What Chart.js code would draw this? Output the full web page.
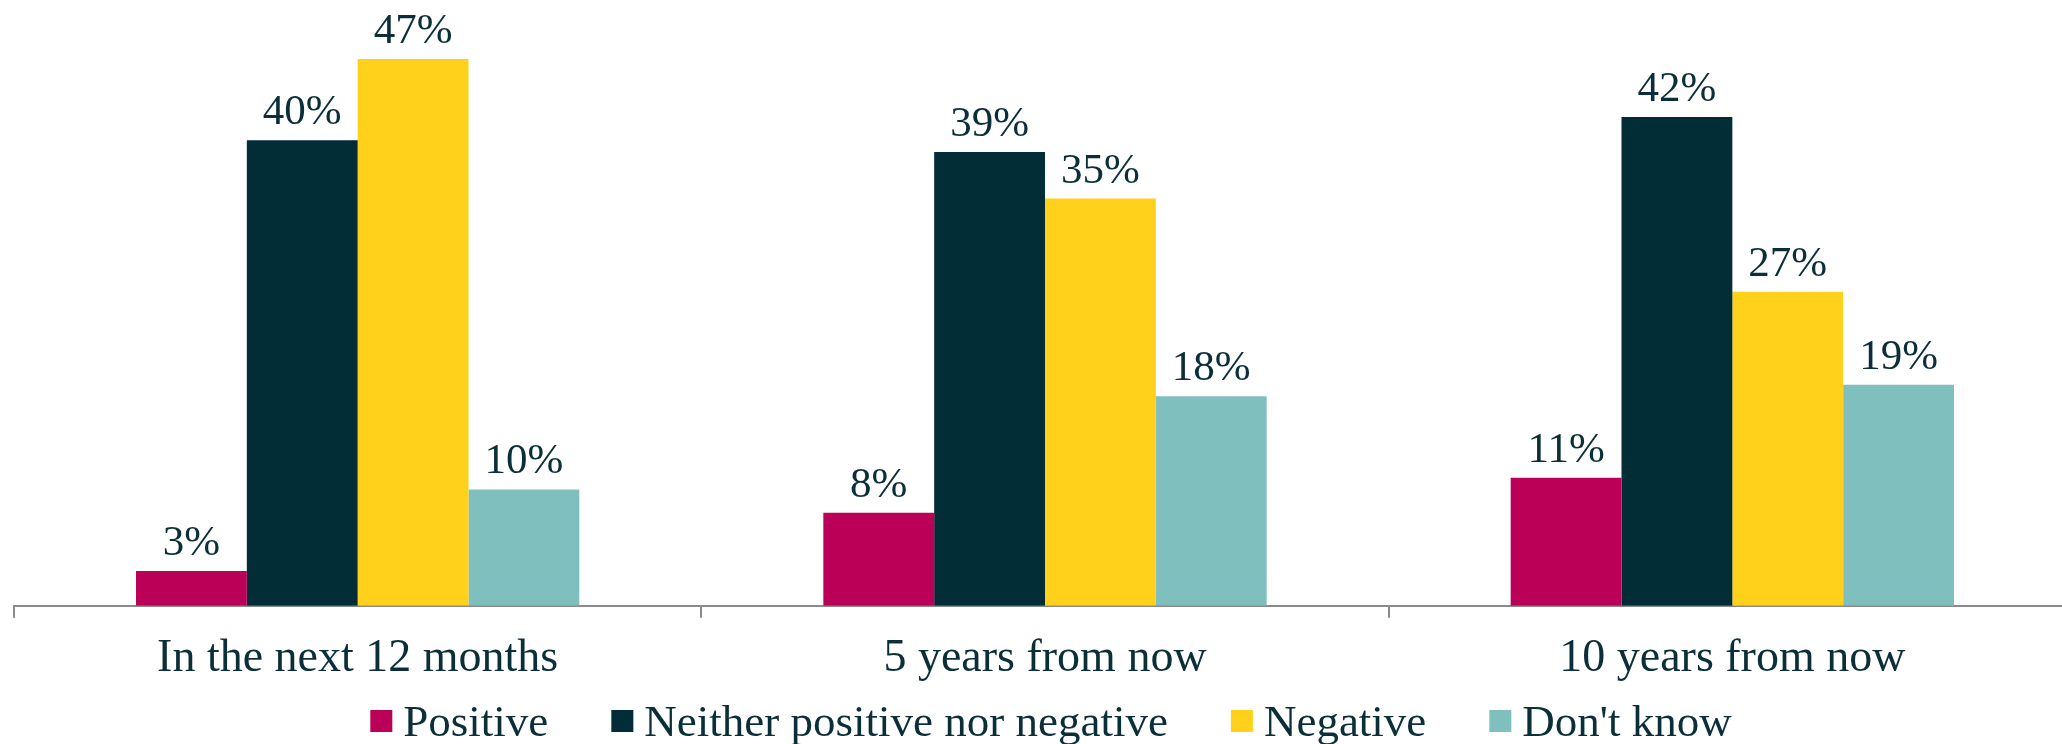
<!DOCTYPE html>
<html>
<head>
<meta charset="utf-8">
<script src="https://cdn.jsdelivr.net/npm/chart.js@4.4.1/dist/chart.umd.min.js"></script>
<style>
  html, body { margin: 0; padding: 0; background: #ffffff; overflow: hidden; }
  #wrap { position: relative; width: 2080px; height: 744px; }
</style>
</head>
<body>
<div id="wrap"><canvas id="c"></canvas></div>
<script>
// Outlook by time horizon (% of respondents)
const categories = ['In the next 12 months', '5 years from now', '10 years from now'];
const seriesNames = ['Positive', 'Neither positive nor negative', 'Negative', "Don't know"];
const positive = [3, 8, 11];
const neither = [40, 39, 42];
const negative = [47, 35, 27];
const dontKnow = [10, 18, 19];

const seriesValues = [positive, neither, negative, dontKnow];
const seriesColors = ['#ba0057', '#022c36', '#ffd11a', '#7fbfbe'];
const textColor = '#0b2f39';
const axisColor = '#8a8a8a';
const serif = "'Liberation Serif', 'DejaVu Serif', serif";

// Writes each bar's value above it
const valueLabels = {
  id: 'valueLabels',
  afterDatasetsDraw(chart) {
    const ctx = chart.ctx;
    ctx.save();
    ctx.font = `43px ${serif}`;
    ctx.fillStyle = textColor;
    ctx.textAlign = 'center';
    ctx.textBaseline = 'alphabetic';
    chart.data.datasets.forEach((ds, di) => {
      const meta = chart.getDatasetMeta(di);
      meta.data.forEach((bar, i) => {
        ctx.fillText(ds.data[i] + '%', bar.x, bar.y - 16);
      });
    });
    ctx.restore();
  }
};

// Single-row legend under the axis: small square swatch, tight gap, wide spacing
const legendRow = {
  id: 'legendRow',
  afterDraw(chart) {
    const ctx = chart.ctx;
    const box = 22, gap = 11, spacing = 63;
    ctx.save();
    ctx.font = `45px ${serif}`;
    const items = chart.data.datasets.map(ds => ({
      text: ds.label,
      color: ds.backgroundColor,
      w: ctx.measureText(ds.label).width
    }));
    const total = items.reduce((s, it) => s + box + gap + it.w, 0) + spacing * (items.length - 1);
    let x = (chart.chartArea.left + chart.chartArea.right) / 2 + 6 - total / 2;
    const cy = chart.height - 23;
    ctx.textAlign = 'left';
    ctx.textBaseline = 'alphabetic';
    items.forEach(it => {
      ctx.fillStyle = it.color;
      ctx.fillRect(x, cy - box / 2, box, box);
      ctx.fillStyle = textColor;
      ctx.fillText(it.text, x + box + gap, cy + 15);
      x += box + gap + it.w + spacing;
    });
    ctx.restore();
  }
};

new Chart(document.getElementById('c'), {
  type: 'bar',
  data: {
    labels: categories,
    datasets: seriesNames.map((name, i) => ({
      label: name,
      data: seriesValues[i],
      backgroundColor: seriesColors[i],
      borderWidth: 0,
      categoryPercentage: 0.645,
      barPercentage: 1.0
    }))
  },
  options: {
    responsive: true,
    maintainAspectRatio: false,
    animation: false,
    devicePixelRatio: 1,
    layout: { padding: { top: 24, left: 14, right: 4, bottom: 43 } },
    plugins: {
      legend: { display: false },
      tooltip: { enabled: false }
    },
    scales: {
      x: {
        grid: {
          drawOnChartArea: false,
          drawTicks: true,
          tickLength: 12,
          color: axisColor,
          lineWidth: 2
        },
        border: { display: true, color: axisColor, width: 2 },
        ticks: {
          color: textColor,
          font: { family: serif, size: 46 },
          padding: 14
        }
      },
      y: {
        display: false,
        min: 0,
        max: 50
      }
    }
  },
  plugins: [valueLabels, legendRow]
});
</script>
</body>
</html>
